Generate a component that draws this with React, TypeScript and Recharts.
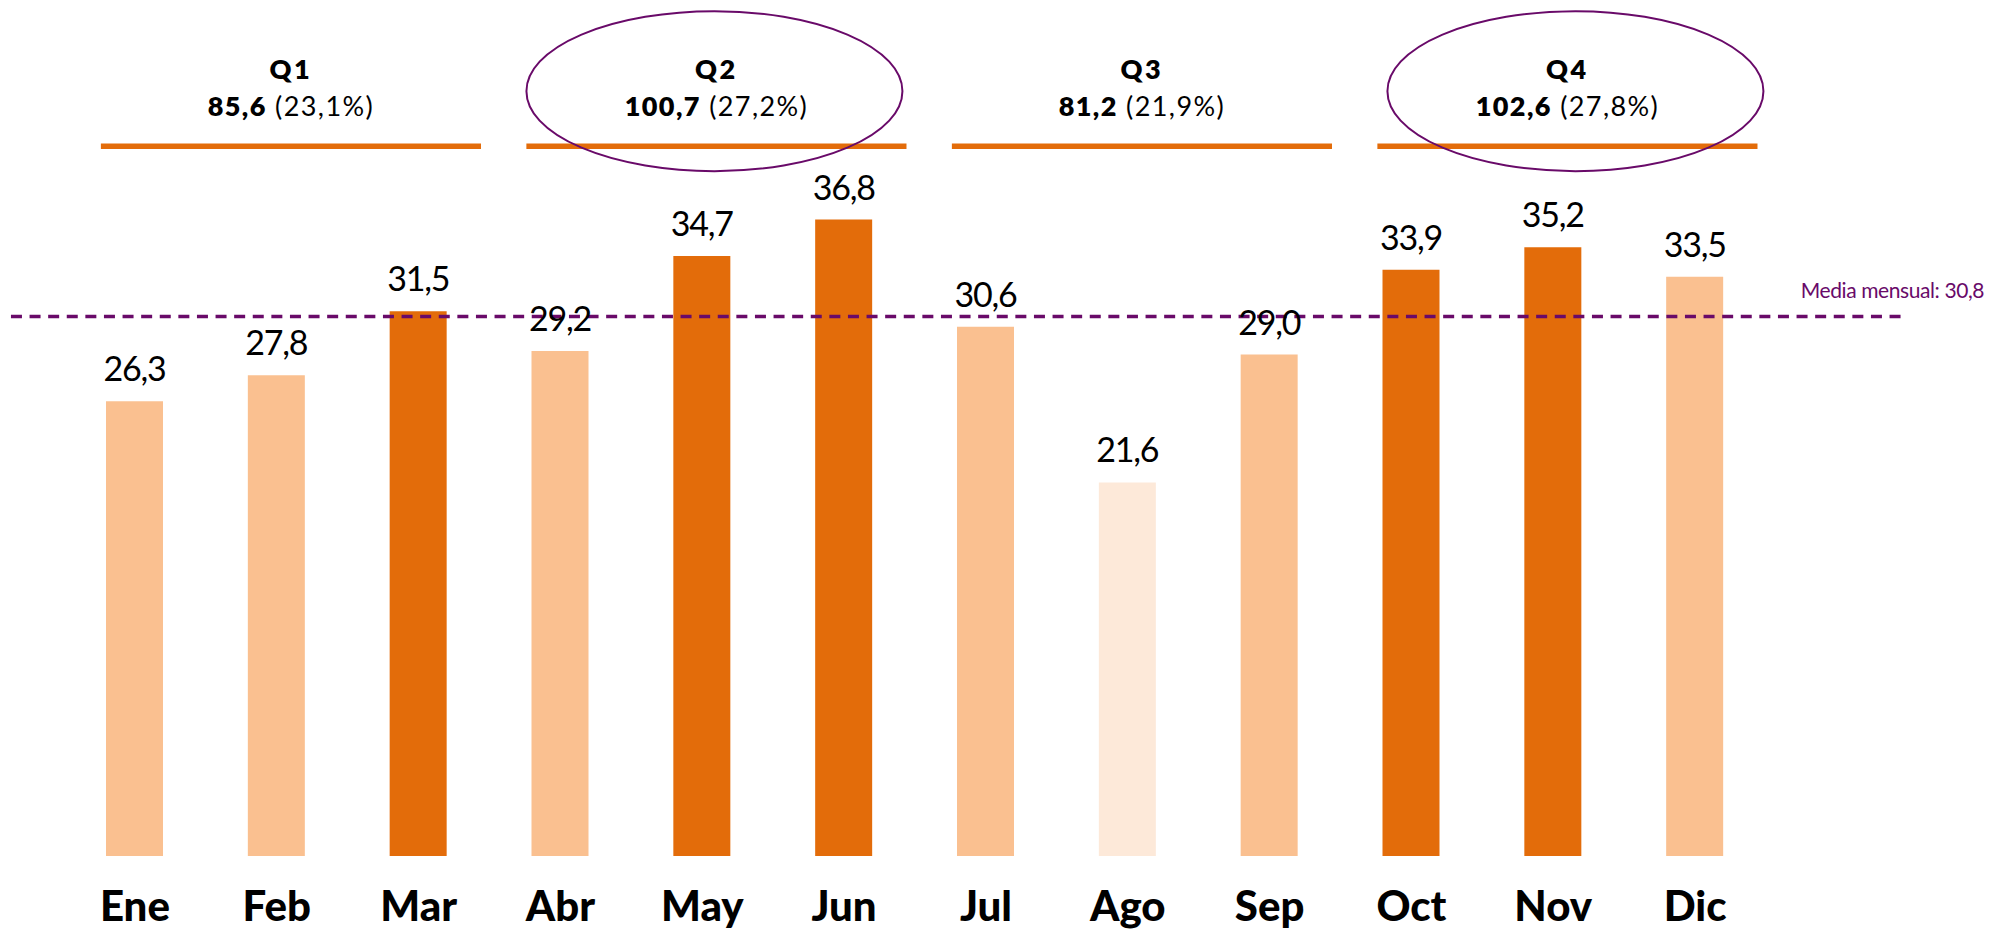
import React from 'react';
import {
  BarChart,
  Bar,
  XAxis,
  YAxis,
  Cell,
  LabelList,
  ReferenceLine,
  ReferenceDot,
} from 'recharts';

// ---------- data ----------
const MONTHS = ['Ene', 'Feb', 'Mar', 'Abr', 'May', 'Jun', 'Jul', 'Ago', 'Sep', 'Oct', 'Nov', 'Dic'];
const VALUES = [26.3, 27.8, 31.5, 29.2, 34.7, 36.8, 30.6, 21.6, 29.0, 33.9, 35.2, 33.5];
const SHADES = ['light', 'light', 'dark', 'light', 'dark', 'dark', 'light', 'pale', 'light', 'dark', 'dark', 'light'];

const QUARTERS = ['Q1', 'Q2', 'Q3', 'Q4'];
const QUARTER_TOTALS = [85.6, 100.7, 81.2, 102.6];
const QUARTER_PCTS = [23.1, 27.2, 21.9, 27.8];
const QUARTER_FIRST_MONTH = [0, 3, 6, 9];
const QUARTER_LAST_MONTH = [2, 5, 8, 11];
const QUARTER_HIGHLIGHT = [false, true, false, true];

const MEAN_LABEL_VALUE = 30.8;
const MEAN_LINE_Y = 31.2; // where the dashed line sits in the picture
const QUARTER_LINE_Y = 41.05;
const Y_MAX = 49.5;

// ---------- style ----------
const COLORS: Record<string, string> = {
  light: '#FAC090',
  dark: '#E36C0A',
  pale: '#FDE9D9',
};
const PURPLE = '#690A69';
const ORANGE = '#E36C0A';
const FONT = 'Lato, "Open Sans", sans-serif';
const ELLIPSE_SHIFT = [0, -2, 0, 8];

const fmt = (v: number) => v.toFixed(1).replace('.', ',');

const data = MONTHS.map((m, i) => ({ month: m, idx: i, value: VALUES[i], shade: SHADES[i] }));

const QUARTER_START_EXT = -0.24;
const QUARTER_END_EXT = 0.44;
const MEAN_SPAN = [-0.874, 12.46];

const ValueLabel = (p: any) => {
  const { x, y, width, value } = p;
  return (
    <text
      x={Number(x) + Number(width) / 2}
      y={Number(y) - 20}
      textAnchor="middle"
      fontFamily={FONT}
      fontSize={34}
      letterSpacing={-1.2}
      fill="#000"
    >
      {fmt(Number(value))}
    </text>
  );
};

const makeHeader = (qi: number) => (p: any) => {
  const { cx, cy } = p;
  return (
    <g>
      <text
        x={cx}
        y={cy - 67}
        textAnchor="middle"
        fontFamily={FONT}
        fontWeight={800}
        fontSize={27}
        letterSpacing={2.5}
        fill="#000"
      >
        {QUARTERS[qi]}
      </text>
      <text
        x={cx}
        y={cy - 30}
        textAnchor="middle"
        fontFamily={FONT}
        fontSize={27}
        letterSpacing={1.4}
        fill="#000"
      >
        <tspan fontWeight={800}>{fmt(QUARTER_TOTALS[qi])}</tspan>
        <tspan> ({fmt(QUARTER_PCTS[qi])}%)</tspan>
      </text>
      {QUARTER_HIGHLIGHT[qi] ? (
        <ellipse
          cx={cx + ELLIPSE_SHIFT[qi]}
          cy={cy - 55}
          rx={188}
          ry={80}
          fill="none"
          stroke={PURPLE}
          strokeWidth={2}
        />
      ) : null}
    </g>
  );
};

const MeanLabel = (p: any) => {
  const { cx, cy } = p;
  return (
    <text
      x={cx + 82}
      y={cy - 18}
      textAnchor="end"
      fontFamily={FONT}
      fontSize={21}
      letterSpacing={-0.4}
      fill={PURPLE}
    >
      {`Media mensual: ${fmt(MEAN_LABEL_VALUE)}`}
    </text>
  );
};

export default function App() {
  return (
    <div style={{ width: 1993, height: 931, background: '#fff', overflow: 'hidden' }}>
      <style>{'body{margin:0;overflow:hidden;}'}</style>
      <BarChart
        width={1993}
        height={931}
        data={data}
        margin={{ top: 0, right: 227, bottom: 0, left: 64 }}
      >
        <XAxis
          dataKey="month"
          type="category"
          axisLine={false}
          tickLine={false}
          tickSize={0}
          tickMargin={35}
          height={75}
          interval={0}
          tick={{ fill: '#000', fontSize: 42, fontWeight: 900, fontFamily: FONT }}
        />
        <XAxis
          xAxisId="idx"
          dataKey="idx"
          type="number"
          domain={[-0.5, 11.5]}
          allowDataOverflow
          hide
        />
        <YAxis domain={[0, Y_MAX]} allowDataOverflow hide />
        <Bar dataKey="value" barSize={57} isAnimationActive={false}>
          {data.map((d, i) => (
            <Cell key={i} fill={COLORS[d.shade]} />
          ))}
          <LabelList dataKey="value" content={ValueLabel} />
        </Bar>
        {QUARTERS.map((q, qi) => (
          <ReferenceLine
            key={q}
            xAxisId="idx"
            ifOverflow="visible"
            segment={[
              { x: QUARTER_FIRST_MONTH[qi] + QUARTER_START_EXT, y: QUARTER_LINE_Y },
              { x: QUARTER_LAST_MONTH[qi] + QUARTER_END_EXT, y: QUARTER_LINE_Y },
            ]}
            stroke={ORANGE}
            strokeWidth={5.5}
          />
        ))}
        <ReferenceLine
          xAxisId="idx"
          ifOverflow="visible"
          segment={[
            { x: MEAN_SPAN[0], y: MEAN_LINE_Y },
            { x: MEAN_SPAN[1], y: MEAN_LINE_Y },
          ]}
          stroke={PURPLE}
          strokeWidth={3.5}
          strokeDasharray="11 7.6"
        />
        <ReferenceDot
          xAxisId="idx"
          x={MEAN_SPAN[1]}
          y={MEAN_LINE_Y}
          ifOverflow="visible"
          shape={MeanLabel}
        />
        {QUARTERS.map((q, qi) => (
          <ReferenceDot
            key={`h-${q}`}
            xAxisId="idx"
            x={(QUARTER_FIRST_MONTH[qi] + QUARTER_START_EXT + QUARTER_LAST_MONTH[qi] + QUARTER_END_EXT) / 2}
            y={QUARTER_LINE_Y}
            ifOverflow="visible"
            shape={makeHeader(qi)}
          />
        ))}
      </BarChart>
    </div>
  );
}
